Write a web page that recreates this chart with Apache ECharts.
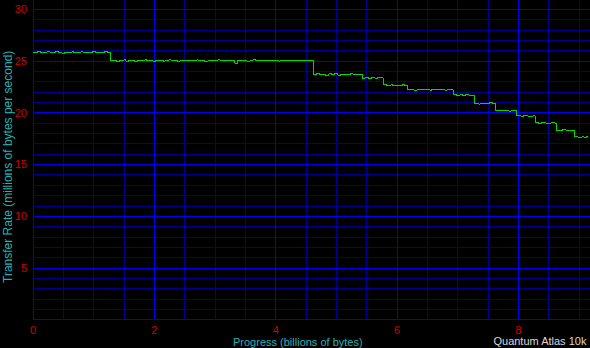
<!DOCTYPE html>
<html><head><meta charset="utf-8">
<script src="https://cdn.jsdelivr.net/npm/echarts@6/dist/echarts.min.js"></script>
<style>html,body{margin:0;padding:0;background:#000;}#c{width:590px;height:348px;}
#c svg path{shape-rendering:crispEdges;}</style>
</head><body><div id="c"></div>
<script>
// Progress sampled every 0.05 billion bytes
const sampleStep = 0.05;
const rate = [
  // zone 1
  25.85,25.8,25.9,25.82,25.78,25.88,25.84,25.8,25.92,25.83,25.76,25.86,25.84,25.9,25.8,25.82,25.88,25.78,25.85,25.83,25.9,25.8,25.86,25.84,25.95,25.82,
  // zone 2
  25.02,25.08,24.98,25.05,25.1,25.0,25.06,25.03,24.95,25.07,
  25.04,25.1,25.02,25.05,24.98,25.08,25.04,25.0,25.06,25.12,
  25.03,25.05,24.97,25.06,25.04,25.08,25.02,25.05,25.1,25.03,
  25.06,24.99,25.05,25.08,25.04,25.1,25.06,25.06,25.03,25.05,
  25.07,24.8,25.05,25.04,25.08,25.0,25.05,25.12,25.03,25.05,
  25.06,25.02,25.07,25.04,25.05,25.0,25.06,25.03,25.08,25.05,
  25.02,25.06,25.04,25.05,25.08,25.03,25.06,
  // zone 3
  23.7,23.78,23.65,23.72,23.6,23.75,23.68,23.8,23.62,23.74,23.7,23.66,23.78,23.7,23.65,23.72,
  // zone 4
  23.35,23.42,23.3,23.38,23.32,23.4,23.36,
  // zone 5
  22.7,22.62,22.68,22.6,22.66,22.64,22.7,22.62,
  // zone 6
  22.22,22.28,22.18,22.24,22.2,22.26,22.22,22.18,22.25,22.2,22.28,22.22,22.19,22.24,22.2,
  // zone 7
  21.8,21.68,21.72,21.66,21.74,21.7,21.68,
  // zone 8
  20.9,20.84,20.92,20.86,20.9,21.0,20.88,
  // zone 9
  20.22,20.18,20.25,20.2,20.16,20.22,20.2,
  // zone 10
  19.7,19.66,19.72,19.68,19.64,19.7,
  // zone 11
  19.02,18.96,19.04,19.0,18.97,19.03,19.0,
  // zone 12
  18.3,18.25,18.34,18.28,18.32,18.26,
  // zone 13
  17.68,17.62,17.66,17.6,17.68
];
const xTickLabels = [0, 2, 4, 6, 8];
const yTickLabels = [5, 10, 15, 20, 25, 30];
const xTitle = 'Progress (billions of bytes)';
const yTitle = 'Transfer Rate (millions of bytes per second)';
const driveName = 'Quantum Atlas 10k';

const data = rate.map((v, i) => [+(i * sampleStep).toFixed(3), v]);

const MINOR = '#000090', MAJOR = '#0000f0', AXIS = '#0000e0';
const X_MAX = 9.18, Y_MAX = 30.9;
const labelFont = { color: '#d00000', fontFamily: 'Liberation Sans', fontSize: 11 };

function mkAxis(pos, max, interval, color, withLabels, list, margin) {
  return {
    type: 'value', position: pos, offset: 0, min: 0, max: max, interval: interval,
    axisLine: { show: withLabels, onZero: false, lineStyle: { color: AXIS, width: 1 } },
    axisTick: { show: false },
    axisLabel: withLabels ? Object.assign({ margin: margin, showMaxLabel: false, showMinLabel: true,
      formatter: v => list.indexOf(Math.round(v * 100) / 100) >= 0 ? String(v) : '' }, labelFont) : { show: false },
    splitLine: { show: true, showMinLine: true, showMaxLine: false, lineStyle: { color: color, width: 1 } },
    z: withLabels ? 3 : 1
  };
}

const chart = echarts.init(document.getElementById('c'), null, { renderer: 'svg' });
chart.setOption({
  backgroundColor: '#000',
  animation: false,
  grid: { left: 33, right: 0, top: 0, bottom: 28.5, containLabel: false, outerBoundsMode: 'none' },
  xAxis: [
    mkAxis('bottom', X_MAX, 0.5, MINOR, false, [], 0),
    mkAxis('bottom', X_MAX, 2, MAJOR, true, xTickLabels, 5)
  ],
  yAxis: [
    mkAxis('left', Y_MAX, 1, MINOR, false, [], 0),
    mkAxis('left', Y_MAX, 5, MAJOR, true, yTickLabels, 6)
  ],
  series: [{
    type: 'line', data: data, step: 'middle', showSymbol: false,
    xAxisIndex: 0, yAxisIndex: 0, z: 5,
    lineStyle: { color: '#00d800', width: 1 }, silent: true
  }],
  graphic: [
    { type: 'text', left: 233, top: 336, style: { text: xTitle, fill: '#20b4b4', font: '11px "Liberation Sans"' } },
    { type: 'text', right: 3, top: 335, style: { text: driveName, fill: '#d8d8d8', font: '11px "Liberation Sans"' } },
    { type: 'text', x: 2, y: 283, rotation: Math.PI / 2,
      style: { text: yTitle, fill: '#20b4b4', font: '12px "Liberation Sans"', textAlign: 'left', textVerticalAlign: 'top' } }
  ]
});
</script></body></html>
